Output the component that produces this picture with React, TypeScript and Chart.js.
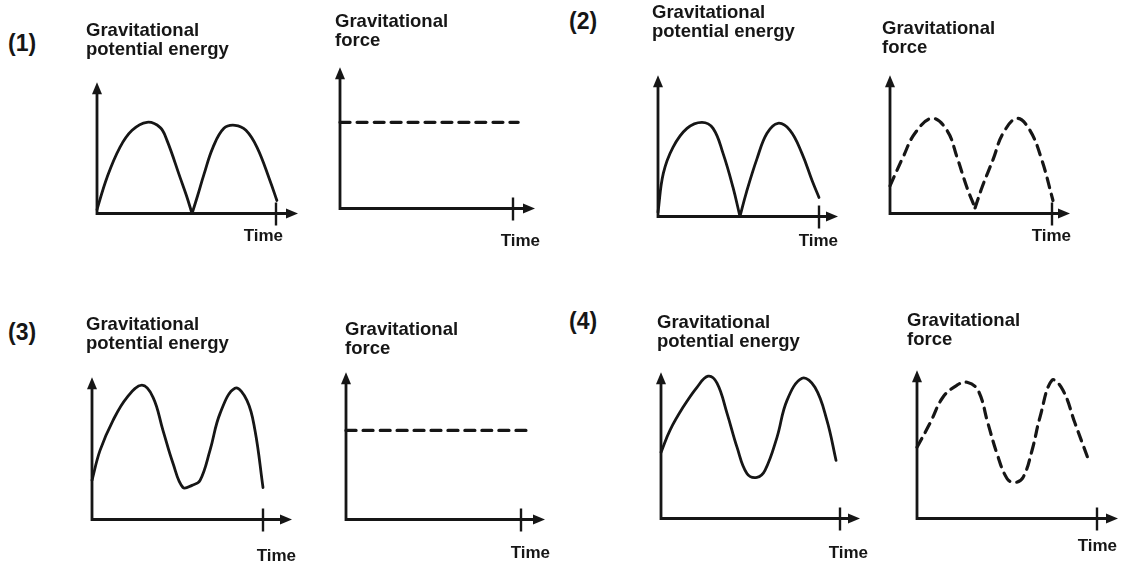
import React, { useEffect, useRef } from "react";
import { Chart, registerables } from "chart.js";

Chart.register(...registerables);

// ---------- data (time units: end tick = 10; value units: top of vertical axis = 10) ----------
const energy1: number[][] = [
  [0, 0.3], [0.56, 2.75], [1.28, 5.04], [1.96, 6.34], [2.79, 6.95], [3.52, 6.56], [3.91, 5.57],
  [4.64, 2.75], [5.0, 1.35], [5.31, 0], [5.62, 1.35], [5.98, 3.0], [6.48, 5.04], [7.09, 6.49],
  [7.71, 6.72], [8.32, 6.34], [8.94, 5.04], [9.66, 2.52], [10.05, 0.99],
];
const force1: number[][] = [[0, 6.1], [10.3, 6.1]];

const energy2: number[][] = [
  [0, 0.3], [0.33, 3.05], [0.93, 4.9], [1.8, 6.24], [2.73, 6.67], [3.42, 6.24], [4.04, 4.47],
  [4.66, 2.06], [5.09, 0], [5.5, 1.75], [6.15, 4.1], [6.77, 5.89], [7.45, 6.6], [8.2, 6.1],
  [8.94, 4.47], [9.57, 2.55], [10, 1.35],
];
const force2: number[][] = [
  [0, 2.0], [0.8, 4.06], [1.54, 5.8], [2.59, 6.88], [3.52, 6.01], [4.14, 4.06], [4.75, 1.88],
  [5.25, 0.4], [5.7, 1.95], [6.36, 3.9], [6.98, 5.8], [7.84, 6.88], [8.64, 6.01], [9.38, 3.84],
  [10.06, 0.94],
];

const energy3: number[][] = [
  [0, 2.75], [0.47, 4.86], [1.23, 6.97], [2.05, 8.59], [2.92, 9.44], [3.57, 8.59], [4.15, 6.27],
  [4.74, 3.94], [5.32, 2.25], [5.85, 2.4], [6.32, 2.75], [6.9, 4.86], [7.49, 7.46], [8.36, 9.23],
  [9.06, 8.38], [9.53, 6.27], [10, 2.25],
];
const force3: number[][] = [[0, 6.05], [10.4, 6.05]];

const energy4: number[][] = [
  [0, 4.52], [0.5, 6.03], [1.23, 7.6], [2.01, 8.97], [2.63, 9.73], [3.13, 9.25], [3.69, 7.19],
  [4.25, 4.86], [4.8, 3.08], [5.36, 2.81], [5.81, 3.29], [6.48, 5.55], [7.04, 8.08], [7.88, 9.59],
  [8.6, 8.97], [9.27, 6.71], [9.78, 3.97],
];
const force4: number[][] = [
  [0, 4.8], [0.72, 6.42], [1.44, 8.18], [2.22, 8.99], [2.78, 9.19], [3.39, 8.65], [3.94, 6.42],
  [4.44, 4.39], [5.0, 2.7], [5.44, 2.43], [5.89, 2.77], [6.39, 4.59], [6.83, 6.82], [7.5, 9.32],
  [8.11, 8.65], [8.78, 6.42], [9.5, 4.05],
];

// index of the sharp (cusp) minimum in each series, -1 when the minimum is rounded
const cusps = [9, -1, 8, 7, -1, -1, -1, -1];

const energyTitle = ["Gravitational", "potential energy"];
const forceTitle = ["Gravitational", "force"];
const timeLabel = "Time";
const optionLabels = ["(1)", "(2)", "(3)", "(4)"];

// ---------- layout / style ----------
const INK = "#161616";
const FONT = '"Liberation Sans", Arial, Helvetica, sans-serif';
const TITLE_SIZE = 18.5;
const TITLE_LH = 1.0;
const TIME_SIZE = 17;
const TIME_LH = 1.0;
const EDGE = 12;

type Box = {
  titleLeft: number; t1c: number; yAxisX: number; arrowTop: number; axisY: number;
  arrowTip: number; tickX: number; timeRight: number; timeC: number;
};

type Spec = { data: number[][]; dashed: boolean; title: string[]; box: Box };

const panels: Spec[] = [
  { data: energy1, dashed: false, title: energyTitle,
    box: { titleLeft: 86, t1c: 31, yAxisX: 97, arrowTop: 82, axisY: 213, arrowTip: 298, tickX: 276, timeRight: 283, timeC: 236 } },
  { data: force1, dashed: true, title: forceTitle,
    box: { titleLeft: 335, t1c: 22, yAxisX: 340, arrowTop: 67, axisY: 208, arrowTip: 535, tickX: 513, timeRight: 540, timeC: 241 } },
  { data: energy2, dashed: false, title: energyTitle,
    box: { titleLeft: 652, t1c: 13, yAxisX: 658, arrowTop: 75, axisY: 216, arrowTip: 838, tickX: 819, timeRight: 838, timeC: 241 } },
  { data: force2, dashed: true, title: forceTitle,
    box: { titleLeft: 882, t1c: 29, yAxisX: 890, arrowTop: 75, axisY: 213, arrowTip: 1070, tickX: 1052, timeRight: 1071, timeC: 236 } },
  { data: energy3, dashed: false, title: energyTitle,
    box: { titleLeft: 86, t1c: 325, yAxisX: 92, arrowTop: 377, axisY: 519, arrowTip: 292, tickX: 263, timeRight: 296, timeC: 556 } },
  { data: force3, dashed: true, title: forceTitle,
    box: { titleLeft: 345, t1c: 330, yAxisX: 346, arrowTop: 372, axisY: 519, arrowTip: 545, tickX: 521, timeRight: 550, timeC: 553 } },
  { data: energy4, dashed: false, title: energyTitle,
    box: { titleLeft: 657, t1c: 323, yAxisX: 661, arrowTop: 372, axisY: 518, arrowTip: 860, tickX: 840, timeRight: 868, timeC: 553 } },
  { data: force4, dashed: true, title: forceTitle,
    box: { titleLeft: 907, t1c: 321, yAxisX: 917, arrowTop: 370, axisY: 518, arrowTip: 1118, tickX: 1097, timeRight: 1117, timeC: 546 } },
];

const labelPos = [
  { left: 8, c: 43 },
  { left: 569, c: 21 },
  { left: 8, c: 332 },
  { left: 569, c: 321 },
];

function geometry(b: Box) {
  const lht = TITLE_SIZE * TITLE_LH;
  const lhx = TIME_SIZE * TIME_LH;
  const top = b.t1c - lht / 2;
  const bottom = b.timeC + lhx / 2;
  const left = b.titleLeft - EDGE;
  const right = Math.max(b.arrowTip, b.timeRight) + 6;
  const unit = (b.tickX - b.yAxisX) / 10;
  return {
    left,
    top,
    width: right - left,
    height: bottom - top,
    padRight: right - b.timeRight,
    titlePadBottom: b.arrowTop - top - 2 * lht,
    xPadTop: bottom - b.axisY - lhx,
    yWidth: b.yAxisX - b.titleLeft,
    xMax: (b.timeRight - b.yAxisX) / unit,
    arrowVal: (b.arrowTip - b.yAxisX) / unit,
  };
}

function Panel({ spec, cusp }: { spec: Spec; cusp: number }) {
  const ref = useRef<HTMLCanvasElement>(null);
  const g = geometry(spec.box);

  useEffect(() => {
    if (!ref.current) return;
    const axesPlugin = {
      id: "arrowAxes",
      afterDraw(chart: any) {
        const { ctx, chartArea, scales } = chart;
        const x0 = chartArea.left;
        const y0 = scales.y.getPixelForValue(0);
        const yTop = scales.y.getPixelForValue(10);
        const xTip = scales.x.getPixelForValue(g.arrowVal);
        const xTick = scales.x.getPixelForValue(10);
        ctx.save();
        ctx.strokeStyle = INK;
        ctx.fillStyle = INK;
        ctx.lineWidth = 2.8;
        ctx.lineCap = "butt";
        ctx.beginPath();
        ctx.moveTo(x0, y0 + 1.4);
        ctx.lineTo(x0, yTop + 8);
        ctx.moveTo(x0 - 1.4, y0);
        ctx.lineTo(xTip - 8, y0);
        ctx.stroke();
        ctx.beginPath();
        ctx.moveTo(x0, yTop);
        ctx.lineTo(x0 - 5, yTop + 12);
        ctx.lineTo(x0 + 5, yTop + 12);
        ctx.closePath();
        ctx.fill();
        ctx.beginPath();
        ctx.moveTo(xTip, y0);
        ctx.lineTo(xTip - 12, y0 - 5);
        ctx.lineTo(xTip - 12, y0 + 5);
        ctx.closePath();
        ctx.fill();
        ctx.lineWidth = 2.4;
        ctx.beginPath();
        ctx.moveTo(xTick, y0 - 11);
        ctx.lineTo(xTick, y0 + 12);
        ctx.stroke();
        ctx.restore();
      },
    };

    const pts = spec.data.map(([x, y]) => ({ x, y }));
    const pieces = cusp > 0 ? [pts.slice(0, cusp + 1), pts.slice(cusp)] : [pts];
    const datasets = pieces.map((d) => ({
      data: d,
      borderColor: INK,
      borderWidth: spec.dashed ? 3.2 : 2.8,
      borderDash: spec.dashed ? [10, 7] : [],
      borderCapStyle: "round",
      pointRadius: 0,
      tension: 0.4,
      fill: false,
      clip: 8,
    }));

    const chart = new Chart(ref.current, {
      type: "line",
      data: { datasets: datasets as any },
      options: {
        responsive: false,
        animation: false,
        events: [],
        layout: { padding: { left: EDGE, top: 0, right: g.padRight, bottom: 0 }, autoPadding: false },
        plugins: {
          legend: { display: false },
          tooltip: { enabled: false },
          title: {
            display: true,
            text: spec.title,
            align: "start",
            color: INK,
            font: { family: FONT, size: TITLE_SIZE, weight: "bold", lineHeight: TITLE_LH },
            padding: { top: 0, bottom: g.titlePadBottom },
          },
        },
        scales: {
          x: {
            type: "linear",
            min: 0,
            max: g.xMax,
            grid: { display: false, drawTicks: false },
            border: { display: false },
            ticks: { display: false },
            title: {
              display: true,
              text: timeLabel,
              align: "end",
              color: INK,
              font: { family: FONT, size: TIME_SIZE, weight: "bold", lineHeight: TIME_LH },
              padding: { top: g.xPadTop, bottom: 0 },
            },
          },
          y: {
            type: "linear",
            min: 0,
            max: 10,
            grid: { display: false, drawTicks: false },
            border: { display: false },
            ticks: { display: false },
            afterFit: (s: any) => {
              s.width = g.yWidth;
            },
          },
        },
      } as any,
      plugins: [axesPlugin],
    });
    return () => chart.destroy();
  }, []);

  return (
    <canvas
      ref={ref}
      width={Math.round(g.width)}
      height={Math.round(g.height)}
      style={{
        position: "absolute",
        left: g.left,
        top: g.top,
        width: Math.round(g.width),
        height: Math.round(g.height),
      }}
    />
  );
}

export default function App() {
  return (
    <div
      style={{
        position: "fixed",
        left: 0,
        top: 0,
        width: 1124,
        height: 564,
        background: "#ffffff",
        overflow: "hidden",
      }}
    >
      {panels.map((p, i) => (
        <Panel key={i} spec={p} cusp={cusps[i]} />
      ))}
      {optionLabels.map((t, i) => (
        <div
          key={t}
          style={{
            position: "absolute",
            left: labelPos[i].left,
            top: labelPos[i].c - 12,
            fontFamily: FONT,
            fontWeight: 700,
            fontSize: 23,
            lineHeight: "24px",
            color: INK,
            whiteSpace: "nowrap",
          }}
        >
          {t}
        </div>
      ))}
    </div>
  );
}
